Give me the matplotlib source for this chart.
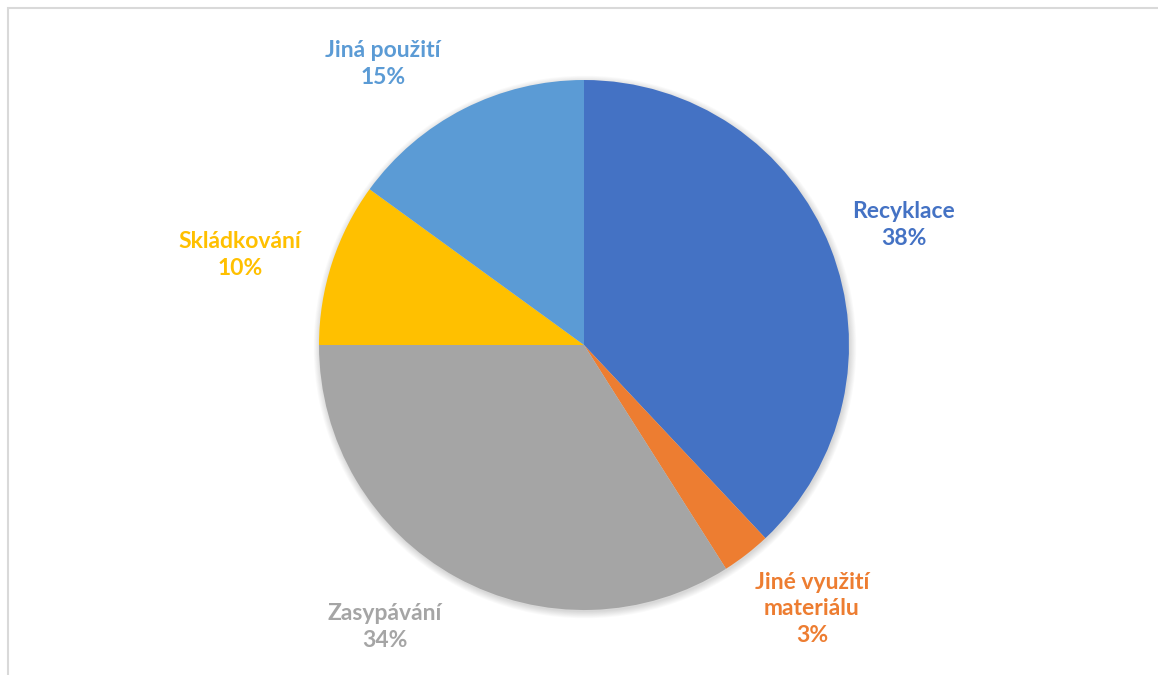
import matplotlib
matplotlib.use("Agg")
import matplotlib.pyplot as plt
from matplotlib.patches import Circle
import numpy as np

labels = ["Recyklace", "Jiné využití\nmateriálu", "Zasypávání", "Skládkování", "Jiná použití"]
values = [38, 3, 34, 10, 15]
colors = ["#4472C4", "#ED7D31", "#A5A5A5", "#FFC000", "#5B9BD5"]
# label placement (polar: angle in degrees, distance relative to radius)
label_angles = [20.5, -49.2, -125.2, 165.4, 125.6]
label_dists = [1.289, 1.316, 1.302, 1.341, 1.302]

W, H = 1158, 675
fig = plt.figure(figsize=(W / 100, H / 100), dpi=100)
ax = fig.add_axes([0, 0, 1, 1])

cx, cy, r = 584, 330, 265

# soft shadow
for i in range(8):
    ax.add_patch(Circle((cx + 1.0, cy - 2.0), r + i * 0.9, color="black",
                        alpha=0.018, lw=0, zorder=1))

wedges, _ = ax.pie(values, colors=colors, startangle=90, counterclock=False,
                   center=(cx, cy), radius=r, frame=True,
                   wedgeprops=dict(linewidth=0, zorder=2))
ax.set_xlim(0, W)
ax.set_ylim(0, H)
ax.set_aspect("equal")
ax.axis("off")

for lab, v, col, ang, d in zip(labels, values, colors, label_angles, label_dists):
    a = np.deg2rad(ang)
    x = cx + d * r * np.cos(a)
    y = cy + d * r * np.sin(a)
    ax.text(x, y, f"{lab}\n{v}%", color=col, ha="center", va="center",
            fontsize=16.5, fontweight="bold", family=["Lato", "DejaVu Sans"],
            linespacing=1.35, zorder=3)

# chart frame (left and top edges visible)
ax.plot([8, 8, W], [0, H - 8, H - 8], color="#D9D9D9", lw=1.5,
        solid_joinstyle="miter", zorder=0)

fig.savefig("out.png", dpi=100)
